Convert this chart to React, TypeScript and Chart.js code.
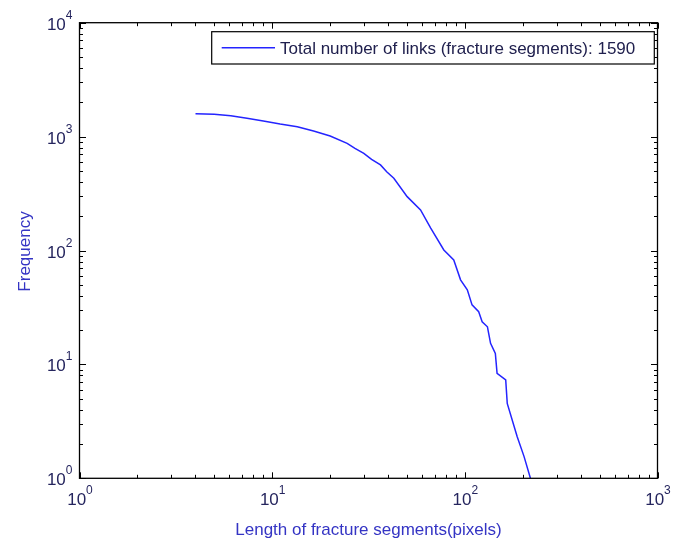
import React, { useEffect, useRef } from "react";
import { Chart, registerables } from "chart.js";

Chart.register(...registerables);

// Cumulative count of fracture segments with length >= x
const lengths: number[] = [4, 5, 6.1, 7.4, 9.0, 11.0, 13.5, 16.4, 20.0, 24.5, 26.9, 29.9, 32.8, 36.5, 39.3, 42.8, 50.2, 58.9, 66.4, 77.8, 87.6, 95, 103, 109, 118, 123, 131, 136, 144, 147, 163, 166, 187, 203, 219];
const frequencies: number[] = [1590, 1575, 1522, 1448, 1371, 1290, 1222, 1119, 1012, 873, 789, 713, 632, 564, 492, 431, 297, 227, 158, 101, 82.6, 55.3, 45.2, 33.3, 29, 23.7, 21.4, 15.3, 12.5, 8.35, 7.3, 4.55, 2.32, 1.55, 1];

const xDecades: number[] = [0, 1, 2, 3];
const yDecades: number[] = [0, 1, 2, 3, 4];
const minorMultipliers: number[] = [2, 3, 4, 5, 6, 7, 8, 9];

const seriesLabel = "Total number of links (fracture segments): 1590";
const xTitle = "Length of fracture segments(pixels)";
const yTitle = "Frequency";

const FONT = "'Liberation Sans', Arial, Helvetica, sans-serif";
const LINE_COLOR = "#2424ff";
const TICK_TEXT = "#25255e";
const TITLE_COLOR = "#3434c4";

const matlabAxesPlugin = {
  id: "matlabAxes",
  afterDraw(chart: any) {
    const ctx: CanvasRenderingContext2D = chart.ctx;
    const { left, right, top, bottom } = chart.chartArea;
    const xs = chart.scales.x;
    const ys = chart.scales.y;
    ctx.save();

    // box
    ctx.strokeStyle = "#000";
    ctx.lineWidth = 1.3;
    ctx.strokeRect(left, top, right - left, bottom - top);

    // ticks
    ctx.lineWidth = 1;
    ctx.beginPath();
    const majX = 6, minX = 3.5, majY = 6.5, minY = 3.5;
    xDecades.forEach((d) => {
      const vals: [number, boolean][] = [[Math.pow(10, d), true]];
      if (d < xDecades[xDecades.length - 1]) minorMultipliers.forEach((m) => vals.push([m * Math.pow(10, d), false]));
      vals.forEach(([v, major]) => {
        const px = Math.round(xs.getPixelForValue(v)) + 0.5;
        const len = major ? majX : minX;
        ctx.moveTo(px, bottom);
        ctx.lineTo(px, bottom - len);
        ctx.moveTo(px, top);
        ctx.lineTo(px, top + len);
      });
    });
    yDecades.forEach((d) => {
      const vals: [number, boolean][] = [[Math.pow(10, d), true]];
      if (d < yDecades[yDecades.length - 1]) minorMultipliers.forEach((m) => vals.push([m * Math.pow(10, d), false]));
      vals.forEach(([v, major]) => {
        const py = Math.round(ys.getPixelForValue(v)) + 0.5;
        const len = major ? majY : minY;
        ctx.moveTo(left, py);
        ctx.lineTo(left + len, py);
        ctx.moveTo(right, py);
        ctx.lineTo(right - len, py);
      });
    });
    ctx.stroke();

    // tick labels
    const baseFont = `17px ${FONT}`;
    const expFont = `12px ${FONT}`;
    ctx.fillStyle = TICK_TEXT;
    ctx.textBaseline = "alphabetic";
    ctx.textAlign = "left";
    xDecades.forEach((d) => {
      const px = xs.getPixelForValue(Math.pow(10, d));
      ctx.font = baseFont;
      const wb = ctx.measureText("10").width;
      ctx.font = expFont;
      const we = ctx.measureText(String(d)).width;
      const x0 = px + 0.5 - (wb + we) / 2;
      ctx.font = baseFont;
      ctx.fillText("10", x0, bottom + 26.7);
      ctx.font = expFont;
      ctx.fillText(String(d), x0 + wb, bottom + 15.7);
    });
    yDecades.forEach((d) => {
      const py = ys.getPixelForValue(Math.pow(10, d));
      ctx.font = expFont;
      const we = ctx.measureText(String(d)).width;
      ctx.font = baseFont;
      const wb = ctx.measureText("10").width;
      const xr = left - 7;
      ctx.font = baseFont;
      ctx.fillText("10", xr - we - wb, py + 7);
      ctx.font = expFont;
      ctx.fillText(String(d), xr - we, py - 4);
    });

    // axis titles
    ctx.fillStyle = TITLE_COLOR;
    ctx.font = `17px ${FONT}`;
    ctx.textAlign = "center";
    ctx.fillText(xTitle, (left + right) / 2, 534.5);
    ctx.save();
    ctx.translate(30, (top + bottom) / 2 + 1);
    ctx.rotate(-Math.PI / 2);
    ctx.fillText(yTitle, 0, 0);
    ctx.restore();

    // legend
    const bx = 211.7, by = 31.7, bw = 654.3 - 211.7, bh = 64 - 31.7;
    ctx.fillStyle = "#fff";
    ctx.fillRect(bx, by, bw, bh);
    ctx.strokeStyle = "#000";
    ctx.lineWidth = 1.2;
    ctx.strokeRect(bx, by, bw, bh);
    ctx.strokeStyle = LINE_COLOR;
    ctx.lineWidth = 1.5;
    ctx.beginPath();
    ctx.moveTo(221.7, 47.7);
    ctx.lineTo(275, 47.7);
    ctx.stroke();
    ctx.fillStyle = "#20204e";
    ctx.textAlign = "left";
    ctx.font = `17px ${FONT}`;
    ctx.fillText(chart.data.datasets[0].label, 280, 54.3);

    ctx.restore();
  },
};

export default function App() {
  const canvasRef = useRef<HTMLCanvasElement | null>(null);

  useEffect(() => {
    const canvas = canvasRef.current;
    if (!canvas) return;
    const chart = new Chart(canvas, {
      type: "line",
      data: {
        datasets: [
          {
            label: seriesLabel,
            data: lengths.map((x, i) => ({ x, y: frequencies[i] })),
            borderColor: LINE_COLOR,
            borderWidth: 1.5,
            pointRadius: 0,
            tension: 0,
            fill: false,
          },
        ],
      },
      options: {
        animation: false,
        responsive: false,
        devicePixelRatio: 1,
        layout: { padding: { left: 79.5, right: 684 - 657.5, top: 22.7, bottom: 544 - 478.3 } },
        scales: {
          x: { type: "logarithmic", min: 1, max: 1000, display: false },
          y: { type: "logarithmic", min: 1, max: 10000, display: false },
        },
        plugins: {
          legend: { display: false },
          tooltip: { enabled: false },
          title: { display: false },
        },
      },
      plugins: [matlabAxesPlugin],
    });
    return () => chart.destroy();
  }, []);

  return (
    <div style={{ position: "fixed", left: 0, top: 0, width: 684, height: 544, background: "#fff" }}>
      <canvas ref={canvasRef} width={684} height={544} style={{ display: "block", width: 684, height: 544 }} />
    </div>
  );
}
